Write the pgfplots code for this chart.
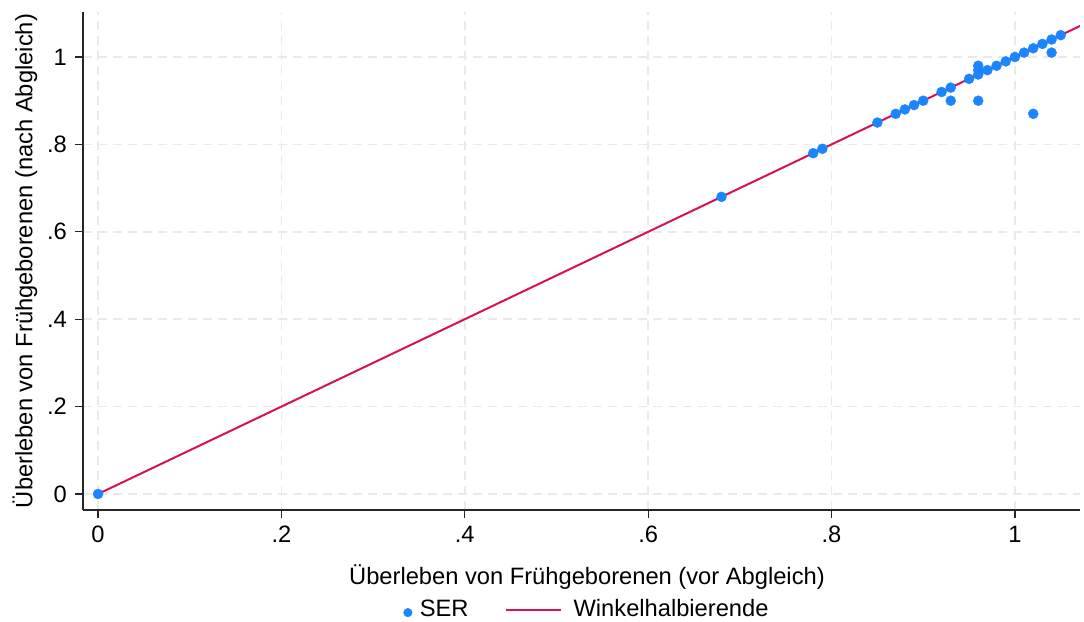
\documentclass[border=0pt]{standalone}
\usepackage{fontspec}
\setmainfont{Liberation Sans}
\usepackage{pgfplots}
\pgfplotsset{compat=1.18}
\definecolor{stblue}{RGB}{26,133,255}
\definecolor{stred}{RGB}{212,17,89}
\definecolor{gridc}{RGB}{234,234,234}
\begin{document}
\fontsize{23.7bp}{28bp}\selectfont
\begin{tikzpicture}
\path[use as bounding box] (-83bp,-112bp) rectangle (1001bp,510bp);
\begin{axis}[
  scale only axis, width=997bp, height=498bp,
  xmin=-0.0164, xmax=1.071, ymin=-0.0366, ymax=1.103,
  axis lines=left,
  axis line style={-, black!85, line width=1.2bp},
  tick align=outside, major tick length=8bp,
  tick style={black!85, line width=1.2bp},
  xtick={0,0.2,0.4,0.6,0.8,1}, xticklabels={0,.2,.4,.6,.8,1},
  ytick={0,0.2,0.4,0.6,0.8,1}, yticklabels={0,.2,.4,.6,.8,1},
  grid=major,
  grid style={gridc, line width=1.5bp, dash pattern=on 9bp off 6bp},
  xlabel={Überleben von Frühgeborenen (vor Abgleich)},
  ylabel={Überleben von Frühgeborenen (nach Abgleich)},
  xlabel style={at={(axis description cs:0.5055,-0.1345)}, anchor=center},
  ylabel style={at={(axis description cs:-0.0582,0.5)}, anchor=center},
  legend columns=2,
  legend style={at={(axis description cs:0.5055,-0.2)}, anchor=center, draw=none, fill=none,
    /tikz/every even column/.append style={column sep=30bp}},
]
\addplot[only marks, color=stblue, mark=*, mark size=5bp, mark options={fill=stblue, draw=stblue},
  legend image code/.code={\path[draw=none, fill=none] (0,-1bp) rectangle (14bp,1bp); \fill[stblue] (4bp,-3bp) circle (4.3bp);}]
  coordinates {
  (0,0) (0.68,0.68) (0.78,0.78) (0.79,0.79) (0.85,0.85) (0.87,0.87)
  (0.88,0.88) (0.89,0.89) (0.90,0.90) (0.92,0.92) (0.93,0.93) (0.93,0.90)
  (0.95,0.95) (0.96,0.96) (0.96,0.97) (0.96,0.98) (0.96,0.90) (0.97,0.97)
  (0.98,0.98) (0.99,0.99) (1.00,1.00) (1.01,1.01) (1.02,1.02) (1.02,0.87)
  (1.03,1.03) (1.04,1.04) (1.04,1.01) (1.05,1.05)
  };
\addlegendentry{SER}
\addplot[stred, line width=2bp,
  legend image code/.code={\path[draw=none, fill=none] (0,-1bp) rectangle (71bp,1bp); \draw[stred, line width=2bp] (5bp,0) -- (60bp,0);}]
  coordinates {(0,0) (1.071,1.071)};
\addlegendentry{Winkelhalbierende}
\end{axis}
\end{tikzpicture}
\end{document}
